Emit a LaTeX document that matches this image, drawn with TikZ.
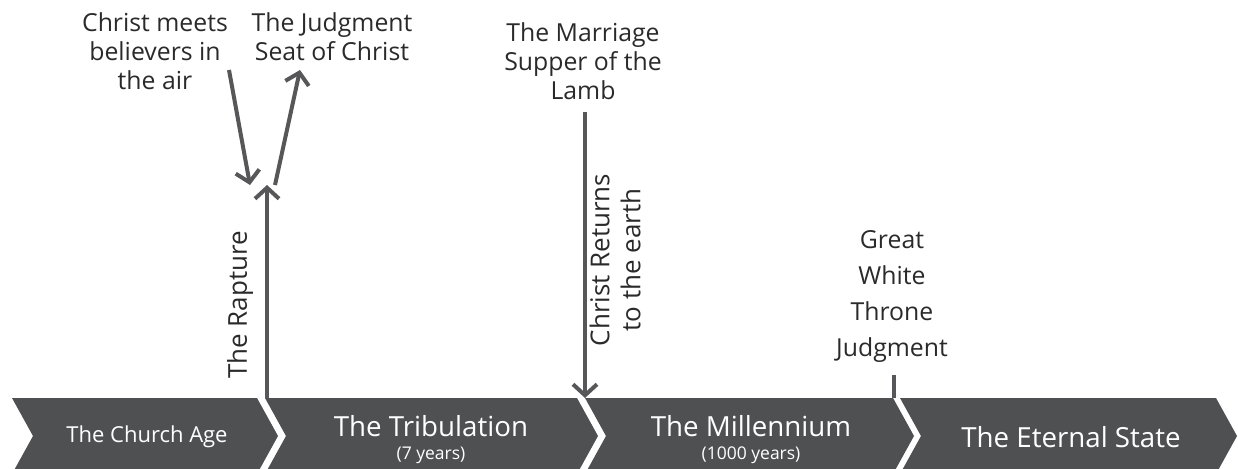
\documentclass[tikz,border=0pt]{standalone}
\usepackage{fontspec}
\setmainfont{Open Sans}
\usetikzlibrary{arrows.meta}
\definecolor{bandgray}{HTML}{4F5052}
\definecolor{arrgray}{HTML}{575759}
\definecolor{txtgray}{HTML}{2A2A2A}
\tikzset{
  chev/.style={fill=bandgray, draw=none},
  bandtext/.style={text=white, align=center, inner sep=0pt},
  toplabel/.style={text=txtgray, align=center, inner sep=0pt, font=\fontsize{24.8}{29}\selectfont},
  conn/.style={draw=arrgray, line width=4pt},
  connarrow/.style={conn, -{Straight Barb[length=11pt,width=24pt,line width=4pt]}},
}
\begin{document}
\begin{tikzpicture}[x=1pt,y=-1pt]
\useasboundingbox (0,0) rectangle (1238,468);
\clip (0,0) rectangle (1238,468);
% chevrons
\fill[chev] (12,398) -- (257,398) -- (278,436) -- (257,474) -- (12,474) -- (33,436) -- cycle;
\fill[chev] (265,398) -- (577,398) -- (598,436) -- (577,474) -- (265,474) -- (286,436) -- cycle;
\fill[chev] (585,398) -- (893,398) -- (914,436) -- (893,474) -- (585,474) -- (606,436) -- cycle;
\fill[chev] (900,398) -- (1216,398) -- (1237,436) -- (1216,474) -- (900,474) -- (921,436) -- cycle;
% band texts
\node[bandtext, font=\fontsize{22}{26}\selectfont] (church) at (147,437) {The Church Age};
\node[bandtext, font=\fontsize{27.7}{30}\selectfont] (trib) at (431,426) {The Tribulation};
\node[bandtext, font=\fontsize{17.5}{20}\selectfont] (tribsub) at (431,455) {(7 years)};
\node[bandtext, font=\fontsize{27.7}{30}\selectfont] (mill) at (751,426) {The Millennium};
\node[bandtext, font=\fontsize{17.5}{20}\selectfont] (millsub) at (751,455) {(1000 years)};
\node[bandtext, font=\fontsize{27.7}{30}\selectfont] (eternal) at (1071,437) {The Eternal State};
% top labels
\node[toplabel] (meets) at (155,51) {Christ meets\\believers in\\the air};
\node[toplabel] (seat) at (332,37) {The Judgment\\Seat of Christ};
\node[toplabel] (supper) at (583,61) {The Marriage\\Supper of the\\Lamb};
\node[toplabel, font=\fontsize{24.8}{36}\selectfont] (gwt) at (892,296) {Great\\White\\Throne\\Judgment};
\node[toplabel, rotate=90, font=\fontsize{26}{31}\selectfont] (rapture) at (240,305) {The Rapture};
\node[toplabel, rotate=90, font=\fontsize{26}{31}\selectfont] (returns) at (615,260) {Christ Returns\\to the earth};
% connector coordinates
\coordinate (rapB) at (267,398);
\coordinate (rapT) at (267,185);
\coordinate (meetS) at (229,70);
\coordinate (meetE) at (250,185);
\coordinate (seatS) at (275,185);
\coordinate (seatE) at (300,70);
\coordinate (retS) at (585,112);
\coordinate (retE) at (585,398);
\coordinate (gwtS) at (894,375);
\coordinate (gwtE) at (894,398);
% connectors
\draw[connarrow] (rapB) -- (rapT);
\draw[connarrow] (meetS) -- (meetE);
\draw[connarrow] (seatS) -- (seatE);
\draw[connarrow] (retS) -- (retE);
\draw[conn] (gwtS) -- (gwtE);
\end{tikzpicture}
\end{document}
